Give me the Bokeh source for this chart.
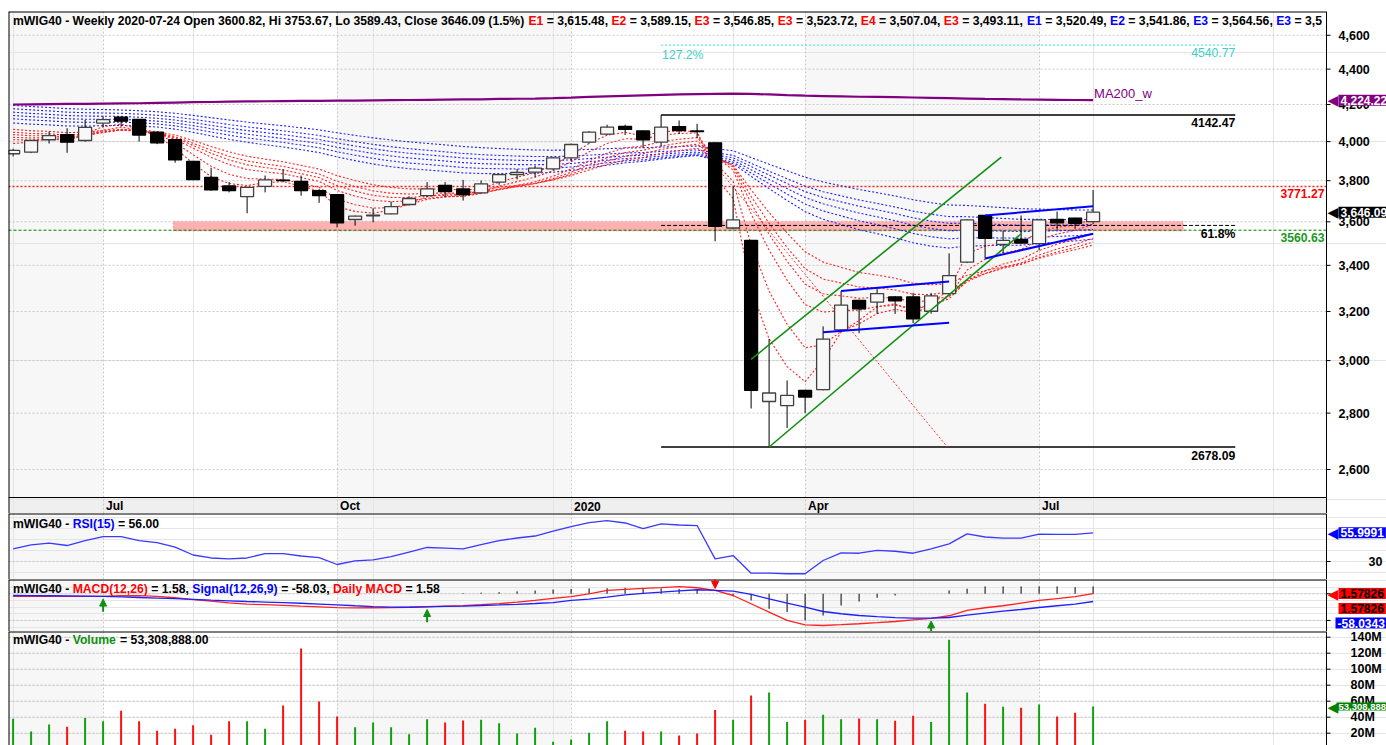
import numpy as np
import pandas as pd
from bokeh.plotting import figure
from bokeh.layouts import column
from bokeh.models import (ColumnDataSource, Range1d, FixedTicker, Label, BoxAnnotation,
                          Arrow, NormalHead, Grid)
from bokeh.core.properties import value
from bokeh.embed import file_html
from bokeh.resources import INLINE

# ------------------------------------------------------------------ data
ticker_name = "mWIG40"
last_date = "2020-07-24"
dates = pd.date_range(end=last_date, periods=61, freq="7D")

opens = [3937, 3945, 4010, 4037, 4006, 4099, 4131, 4118, 4050, 4010,
         3897, 3817, 3774, 3721, 3772, 3803, 3797, 3751, 3731, 3611,
         3628, 3638, 3683, 3726, 3776, 3759, 3740, 3793, 3830, 3843,
         3859, 3916, 3997, 4040, 4081, 4057, 3997, 4080, 4057, 3994,
         3571, 3513, 2843, 2828, 2885, 2888, 3124, 3247, 3240, 3262,
         3262, 3201, 3276, 3414, 3630, 3495, 3518, 3498, 3611, 3617,
         3600.82]
highs = [3963, 4008, 4053, 4071, 4116, 4135, 4133, 4120, 4055, 4012,
         3900, 3865, 3793, 3770, 3826, 3859, 3826, 3759, 3733, 3630,
         3665, 3697, 3723, 3793, 3793, 3804, 3801, 3832, 3859, 3876,
         3920, 3990, 4055, 4090, 4090, 4060, 4142.47, 4113, 4095, 3997,
         3771.27, 3515, 3087, 2923, 2887, 3138, 3287, 3250, 3298, 3265,
         3279, 3279, 3454, 3612, 3632, 3559, 3630, 3614, 3649, 3620,
         3753.67]
lows = [3923, 3940, 3990, 3942, 4000, 4077, 4080, 4000, 3987, 3891,
        3803, 3750, 3742, 3641, 3742, 3793, 3726, 3691, 3574, 3582,
        3598, 3636, 3678, 3718, 3718, 3702, 3738, 3780, 3806, 3817,
        3851, 3899, 3990, 4035, 4035, 3966, 3975, 4040, 4018, 3509,
        3565, 2817, 2678.09, 2746, 2800, 2885, 3115, 3110, 3190, 3190,
        3152, 3191, 3270, 3410, 3431, 3453, 3500, 3467, 3562, 3567,
        3589.43]
closes = [3954, 4006, 4032, 3997, 4076, 4117, 4109, 4035, 3994, 3905,
          3806, 3754, 3751, 3767, 3804, 3800, 3751, 3726, 3595, 3627,
          3632, 3673, 3712, 3759, 3746, 3731, 3784, 3830, 3841, 3863,
          3916, 3985, 4050, 4077, 4065, 4010, 4077, 4059, 4053, 3579,
          3609, 2885, 2875, 2866, 2860, 3086, 3227, 3211, 3276, 3245,
          3169, 3266, 3354, 3609, 3523, 3513, 3501, 3609, 3595, 3593,
          3646.09]
volumes_m = [38, 22, 31, 28, 39, 35, 48, 35, 23, 25.5,
             30, 18, 35, 35, 25.5, 54.6, 126, 59.6, 41, 27.5,
             33.4, 27.5, 18.8, 37.5, 33.4, 36, 36.7, 32.5, 19.6, 26.7,
             9.2, 12, 20.5, 35, 23, 22, 22, 17, 19.5, 49,
             36.7, 67, 71, 34, 36.7, 43, 37.5, 38.4, 37.5, 35.5,
             41.7, 34, 136.7, 71, 56.7, 53, 51.7, 55.9, 40.9, 45.5,
             53.308888]
ma200 = [4200, 4201, 4202, 4203, 4204, 4205, 4206, 4207, 4209, 4211,
         4213, 4214, 4216, 4217, 4218, 4219, 4220, 4220, 4221, 4222,
         4223, 4224, 4225, 4226, 4227, 4228, 4229, 4231, 4232, 4233,
         4235, 4238, 4242, 4245, 4248, 4251, 4254, 4256, 4258, 4259,
         4260, 4259, 4256, 4252, 4249, 4247, 4245, 4243, 4242, 4241,
         4239, 4237, 4235, 4233, 4231, 4230, 4228, 4227, 4226, 4225,
         4224.22]
rsi = [41.5, 45.0, 46.6, 44.5, 49.0, 52.6, 52.6, 49.0, 47.2, 43.0,
       35.9, 33.2, 32.4, 33.2, 37.2, 37.2, 35.0, 33.6, 27.3, 30.5,
       31.4, 34.5, 38.6, 42.7, 42.2, 41.5, 45.4, 49.0, 51.3, 53.1,
       57.6, 61.7, 65.3, 67.1, 64.9, 59.9, 64.1, 63.1, 62.6, 32.4,
       35.4, 19.4, 19.4, 18.9, 18.9, 30.9, 37.9, 37.5, 40.0, 39.3,
       37.5, 41.5, 46.0, 55.1, 52.2, 51.1, 51.1, 54.9, 54.5, 54.5,
       55.9991]
macd = [-20, -20, -20, -20, -20, -20, -15, -14, -20, -30,
        -44, -55, -68, -77, -82, -87, -93, -98, -104, -106,
        -105, -104, -101, -96, -92, -89, -82, -74, -63, -50,
        -35, -22, 0, 25, 33, 40, 46, 54, 45, 25,
        -13, -75, -138, -200, -233, -238, -232, -225, -217, -208,
        -196, -184, -165, -125, -105, -90, -70, -50, -36, -22,
        1.57826]
signal = [-13, -14, -15, -16, -18, -20, -24, -28, -32, -37,
          -42, -48, -53, -58, -62, -66, -71, -77, -83, -90,
          -96, -100, -101, -98, -95, -92, -88, -84, -79, -73,
          -66, -50, -40, -25, -8, 3, 12, 22, 30, 25,
          20, -5, -38, -70, -100, -133, -150, -163, -172, -179,
          -182, -183, -178, -160, -145, -130, -118, -103, -90, -78,
          -58.0343]
hist = [0, 0, 0, 0, 0, 0, 0, 0, 0, 0,
        0, 0, 0, 0, 0, 0, 0, 0, 0, 0,
        0, 0, 0, 0, 0, 5, 8, 12, 18, 24,
        32, 36, 40, 42, 45, 42, 40, 36, 28, 0,
        -20, -50, -113, -138, -200, -163, -88, -58, -30, -13,
        0, 0, 25, 38, 55, 55, 55, 55, 55, 50,
        55]
signal_idx = [5, 23, 39, 51]
signal_dir = [1, 1, -1, 1]

ema_short_periods = [3, 5, 8, 10, 12, 15]
ema_short_start = [3990, 4010, 4023, 4037, 4050, 4065]
ema_long_periods = [30, 35, 40, 45, 50, 60]
ema_long_start = [4099, 4122, 4140, 4158, 4177, 4195]
ema_short_names = ["E1", "E2", "E3", "E3", "E4", "E3"]
ema_short_last = [3615.48, 3589.15, 3546.85, 3523.72, 3507.04, 3493.11]
ema_long_names = ["E1", "E2", "E3", "E3"]
ema_long_last = [3520.49, 3541.86, 3564.56]
ema_long_cut = "3,5"

fib_low = 2678.09
fib_high = 4142.47
fib_618 = fib_low + 0.618 * (fib_high - fib_low)
fib_1272 = 4540.77
fib_from_idx, fib_to_idx = 36, 67.9
resistance = 3771.27
support = 3560.63
zone_low, zone_high = 3557, 3602
zone_from_idx, zone_to_idx = 8.9, 65.0

channel_upper = ([41.0, 54.9], [3005, 3919])
channel_lower = ([42.0, 56.0], [2678.09, 3544])
wedge1_upper = ([46, 52], [3287, 3329])
wedge1_lower = ([45, 52], [3114, 3153])
wedge2_upper = ([54, 60], [3630, 3675])
wedge2_lower = ([54, 60], [3431, 3544])
projection = ([38.3, 51.9], [3957, 2678.09])

price_ticks = [2600, 2800, 3000, 3200, 3400, 3600, 3800, 4000, 4200, 4400, 4600]
price_tick_labels = [f"{t:,}" for t in price_ticks]
rsi_ticks = [30]
rsi_tick_labels = ["30"]
macd_ticks = [-200, 0]
vol_ticks_m = [20, 40, 60, 80, 100, 120, 140]
vol_tick_labels = [f"{t}M" for t in vol_ticks_m]

# ------------------------------------------------------------------ layout constants
W = 1386
LEFT = 8
FW = W - LEFT            # frame width (frame runs to the window edge)
AX_PX = 1326 - LEFT      # axis line, px from frame left
BAR_PX = 18.0
X0 = -(12.6 - LEFT) / BAR_PX
X1 = X0 + FW / BAR_PX
FONT = "Liberation Sans"
GRID = "#c8c8c8"
RED = "#ff0000"
BLUE = "#0000ff"
GREEN = "#008000"

PRICE_TOP, PRICE_H = 11, 513          # price frame: page y 11 .. 513 (incl. date band)
PRICE_LO, PRICE_HI = 2454, 4746


def dx(px):
    return X0 + px / BAR_PX


X_AX = dx(AX_PX)


def price_at(page_y):
    t = (page_y - PRICE_TOP) / (PRICE_H - PRICE_TOP)
    return float(np.exp(np.log(PRICE_HI) - t * (np.log(PRICE_HI) - np.log(PRICE_LO))))


n = len(closes)
idx = np.arange(n)
up = [c >= o for o, c in zip(opens, closes)]


def ema(vals, period, start):
    a = 2.0 / (period + 1)
    out = [start]
    for v in vals[1:]:
        out.append(out[-1] + a * (v - out[-1]))
    return out


qticks = [i for i in range(1, n)
          if dates[i].month != dates[i - 1].month and dates[i].month in (1, 4, 7, 10)]
qlabels = [str(dates[i].year) if dates[i].month == 1 else dates[i].strftime("%b") for i in qticks]

AW = {' ': 278, '%': 889, '(': 333, ')': 333, ',': 278, '-': 333, '.': 278, '=': 584, '_': 556,
      'A': 722, 'C': 722, 'D': 722, 'E': 667, 'G': 778, 'H': 722, 'I': 278, 'L': 611, 'M': 833,
      'O': 778, 'R': 722, 'S': 667, 'V': 667, 'W': 944,
      'a': 556, 'b': 611, 'c': 556, 'd': 611, 'e': 556, 'f': 333, 'g': 611, 'h': 611, 'i': 278,
      'k': 556, 'l': 278, 'm': 889, 'n': 611, 'o': 611, 'p': 611, 'r': 389, 's': 556, 't': 333,
      'u': 611, 'w': 778, 'y': 556}


def text_width(s, size):
    return sum(AW.get(ch, 556) for ch in s) * size / 1000.0


xr = Range1d(X0, X1)


def make_fig(height, yr, log=False, top=0):
    f = figure(width=W, height=height, x_range=xr, y_range=yr,
               y_axis_type="log" if log else "linear",
               x_axis_location=None, y_axis_location=None,
               output_backend="svg", toolbar_location=None,
               min_border_left=LEFT, min_border_right=0, min_border_top=top, min_border_bottom=0)
    f.outline_line_color = None
    f.background_fill_color = "white"
    f.border_fill_color = "white"
    bounds = [X0] + qticks + [X_AX]
    for a, b in zip(bounds[0::2], bounds[1::2]):
        f.add_layout(BoxAnnotation(left=a, right=b, fill_color="#f7f7f7", fill_alpha=1,
                                   line_color=None, level="image"))
    f.add_layout(Grid(dimension=0, ticker=FixedTicker(ticks=qticks),
                      grid_line_color=GRID, grid_line_dash="2 2"))
    return f


def hgrid(f, ticks):
    k = len(ticks)
    f.segment(x0=[X0] * k, y0=ticks, x1=[X_AX] * k, y1=ticks, line_color=GRID,
              line_dash="2 2", line_width=1)


def y_axis(f, yr, ticks, labels, label_px):
    k = len(ticks)
    f.segment(x0=[X_AX] * k, y0=ticks, x1=[dx(AX_PX + 4)] * k, y1=ticks,
              line_color="black", line_width=1)
    if labels:
        f.text(x=[dx(label_px)] * k, y=ticks, text=labels, text_font=value(FONT),
               text_font_style="bold", text_font_size="12.5px", text_baseline="middle",
               text_align="left", text_color="black")
    f.segment(x0=[X_AX], y0=[yr.start], x1=[X_AX], y1=[yr.end], line_color="black", line_width=1)
    f.segment(x0=[X0], y0=[yr.start], x1=[X0], y1=[yr.end], line_color="black", line_width=2)
    f.segment(x0=[X0], y0=[yr.end], x1=[X_AX], y1=[yr.end], line_color="black", line_width=2)


def label(f, x, y, text, color="black", size="12.2px", bold=True, align="left",
          baseline="middle", xu="data", yu="data", bg=None, xo=0, yo=0, font=FONT, pad=0):
    kw = dict(x=x, y=y, x_units=xu, y_units=yu, text=text, text_color=color, text_font=font,
              text_font_size=size, text_font_style="bold" if bold else "normal",
              text_align=align, text_baseline=baseline, x_offset=xo, y_offset=yo)
    if bg is not None:
        kw.update(background_fill_color=bg, background_fill_alpha=1.0, padding=pad)
    f.add_layout(Label(**kw))


def rich(f, x, y, pieces, size=12.2):
    for txt, col in pieces:
        lead = len(txt) - len(txt.lstrip(" "))
        s = txt.strip(" ")
        if s:
            label(f, x + text_width(" " * lead, size), y, s, color=col, size=f"{size}px",
                  xu="screen", yu="screen")
        x += text_width(txt, size)


def value_box(f, y, text, bg, fg="white", yo=0, pointer=True, size="12px", gap=12):
    if pointer:
        label(f, AX_PX + 1, y, "\u25C0", color=bg, size="14px", bold=False, xu="screen",
              yo=yo, font="DejaVu Sans")
    label(f, AX_PX + gap, y, text, color=fg, size=size, xu="screen", bg=bg, pad=(2, 1), yo=yo)


# ------------------------------------------------------------------ price panel
pyr = Range1d(PRICE_LO, PRICE_HI)
p = make_fig(PRICE_H, pyr, log=True, top=PRICE_TOP)
band_top = price_at(497)
p.add_layout(BoxAnnotation(left=X0, right=X_AX, top=band_top, fill_color="#efefef",
                           fill_alpha=1, line_color=None, level="image"))
hgrid(p, price_ticks)

p.add_layout(BoxAnnotation(left=zone_from_idx, right=zone_to_idx, bottom=zone_low, top=zone_high,
                           fill_color="#ffa8a8", fill_alpha=0.9, line_color="#ff2020",
                           line_dash="2 2", line_width=1.2, level="underlay"))
p.line([X0, X_AX], [resistance] * 2, line_color="#ff2020", line_dash="2 2", line_width=1.4)
p.line([X0, X_AX], [support] * 2, line_color=GREEN, line_dash="3 2", line_width=1)

for per, st in zip(ema_long_periods, ema_long_start):
    p.line(idx, ema(closes, per, st), line_color="#2020ff", line_dash="2 2", line_width=1.1)
for per, st in zip(ema_short_periods, ema_short_start):
    p.line(idx, ema(closes, per, st), line_color="#ff2020", line_dash="2 2", line_width=1.1)

p.line(idx, ma200, line_color="#800080", line_width=2.2)

fx = [fib_from_idx, fib_to_idx]
p.line(fx, [fib_1272] * 2, line_color="#40e0d0", line_dash="2 2", line_width=1)
p.line(fx, [fib_high] * 2, line_color="black", line_width=1.6)
p.line(fx, [fib_low] * 2, line_color="black", line_width=1.6)
p.line(fx, [fib_618] * 2, line_color="black", line_dash="4 2", line_width=1)

p.line(*projection, line_color="#ff3030", line_dash="2 2", line_width=1)

body_top = np.maximum(opens, closes)
body_bot = np.minimum(opens, closes)
src = ColumnDataSource(dict(x=idx, h=highs, l=lows, top=body_top, bot=body_bot,
                            fill=["#f8f8f8" if u else "black" for u in up],
                            line=["#404040" if u else "black" for u in up]))
p.segment(x0="x", y0="h", x1="x", y1="l", source=src, line_color="black", line_width=1)
p.vbar(x="x", width=0.72, top="top", bottom="bot", fill_color="fill", line_color="line",
       line_width=1.3, source=src)

for ln in (channel_upper, channel_lower):
    p.line(*ln, line_color="#109010", line_width=1.6)
for ln in (wedge1_upper, wedge1_lower, wedge2_upper, wedge2_lower):
    p.line(*ln, line_color="#0000ff", line_width=2)

# date band (below price frame line)
p.segment(x0=[X0], y0=[band_top], x1=[X_AX], y1=[band_top], line_color="black", line_width=1)
p.text(x=[t + 3 / BAR_PX for t in qticks], y=[price_at(505.5)] * len(qticks), text=qlabels,
       text_font=value(FONT), text_font_style="bold", text_font_size="12px",
       text_baseline="middle", text_align="left", text_color="black")

y_axis(p, pyr, price_ticks, price_tick_labels, AX_PX + 12)

# level texts
label(p, fib_from_idx, fib_1272, "127.2%", color="#40d0c8", bold=False, baseline="top", xo=1, yo=-3)
label(p, fib_to_idx, fib_1272, f"{fib_1272:.2f}", color="#40d0c8", bold=False, align="right",
      baseline="top", yo=-3)
label(p, fib_to_idx, fib_high, f"{fib_high:.2f}", align="right", baseline="top", yo=-3)
label(p, fib_to_idx, fib_low, f"{fib_low:.2f}", align="right", baseline="top", yo=-4)
label(p, fib_to_idx, fib_618, "61.8%", align="right", baseline="top", yo=-2)
label(p, AX_PX - 2, resistance, f"{resistance:.2f}", color=RED, align="right", baseline="top",
      xu="screen", yo=-3)
label(p, AX_PX - 2, support, f"{support:.2f}", color="#1a9a1a", align="right", baseline="top",
      xu="screen", yo=-3)
label(p, n - 1, ma200[-1], "MA200_w", color="#800080", size="13px", bold=False,
      baseline="bottom", xo=1, yo=-1)

# header
pct = (closes[-1] / closes[-2] - 1) * 100
hdr = (f"{ticker_name} - Weekly {dates[-1]:%Y-%m-%d} Open {opens[-1]:.2f}, Hi {highs[-1]:.2f}, "
       f"Lo {lows[-1]:.2f}, Close {closes[-1]:.2f} ({pct:.1f}%) ")
pieces = [(hdr, "black")]
for nm, val in zip(ema_short_names, ema_short_last):
    pieces += [(nm, RED), (f" = {val:,.2f}, ", "black")]
for nm, val in zip(ema_long_names, ema_long_last):
    pieces += [(nm, BLUE), (f" = {val:,.2f}, ", "black")]
pieces += [(ema_long_names[-1], BLUE), (f" = {ema_long_cut}", "black")]
rich(p, 4.5, (PRICE_H - PRICE_TOP) - 9.5, pieces)

value_box(p, ma200[-1], f"{ma200[-1]:,.2f}", "#800080")
value_box(p, closes[-1], f"{closes[-1]:,.2f}", "black")

# ------------------------------------------------------------------ RSI panel
RSI_H = 66
ryr = Range1d(13.7, 73.5)
r = make_fig(RSI_H, ryr)
hgrid(r, rsi_ticks)
r.line(idx, rsi, line_color="#3a3aff", line_width=1.3)
y_axis(r, ryr, rsi_ticks, rsi_tick_labels, AX_PX + 42)
rich(r, 4.5, RSI_H - 10, [(f"{ticker_name} - ", "black"), ("RSI(15)", BLUE),
                          (f" = {rsi[-1]:.2f}", "black")])
value_box(r, rsi[-1], f"{rsi[-1]:.4f}", BLUE)

# ------------------------------------------------------------------ MACD panel
MACD_H = 52
myr = Range1d(-283, 107)
m = make_fig(MACD_H, myr)
hgrid(m, macd_ticks)
m.segment(x0=idx, y0=[0] * n, x1=idx, y1=hist, line_color="black", line_width=1)
m.line(idx, macd, line_color="#ff2020", line_width=1.3)
m.line(idx, signal, line_color="#2020ff", line_width=1.3)
for i, d in zip(signal_idx, signal_dir):
    col = "#109010" if d > 0 else RED
    if d > 0:
        tip = min(macd[i], signal[i]) - 20
        tail = tip - 95
    else:
        tip = max(macd[i], signal[i]) + 15
        tail = tip + 95
    m.add_layout(Arrow(end=NormalHead(size=7, fill_color=col, line_color=col),
                       x_start=i, y_start=tail, x_end=i, y_end=tip,
                       line_color=col, line_width=2))
y_axis(m, myr, macd_ticks, None, 0)
rich(m, 4.5, MACD_H - 9, [(f"{ticker_name} - ", "black"), ("MACD(12,26)", RED),
                          (f" = {macd[-1]:.2f}, ", "black"), ("Signal(12,26,9)", BLUE),
                          (f" = {signal[-1]:.2f}, ", "black"), ("Daily MACD", RED),
                          (f" = {macd[-1]:.2f}", "black")])
value_box(m, macd[-1], f"{macd[-1]:.5f}", RED, fg="black")
value_box(m, macd[-1], f"{macd[-1]:.5f}", RED, fg="black", yo=-15, pointer=False)
value_box(m, macd[-1], f"{signal[-1]:.4f}", BLUE, yo=-29.5, pointer=False, gap=9)

# ------------------------------------------------------------------ Volume panel
VOL_H = 114
vyr = Range1d(4.6e6, 147.1e6)
v = make_fig(VOL_H, vyr)
vol = [x * 1e6 for x in volumes_m]
vticks = [t * 1e6 for t in vol_ticks_m]
hgrid(v, vticks)
v.segment(x0=idx, y0=[0] * n, x1=idx, y1=vol,
          line_color=["#10a010" if u else "#ff1010" for u in up], line_width=2)
y_axis(v, vyr, vticks, vol_tick_labels, AX_PX + 24)
rich(v, 4.5, VOL_H - 8, [(f"{ticker_name} - ", "black"), ("Volume", "#109010"),
                         (f" = {vol[-1]:,.2f}", "black")])
value_box(v, vol[-1], f"{vol[-1]:,.0f}", GREEN, size="9.5px", gap=10)

layout = column(p, r, m, v, spacing=0)
open("out.html", "w").write(file_html(layout, INLINE))
